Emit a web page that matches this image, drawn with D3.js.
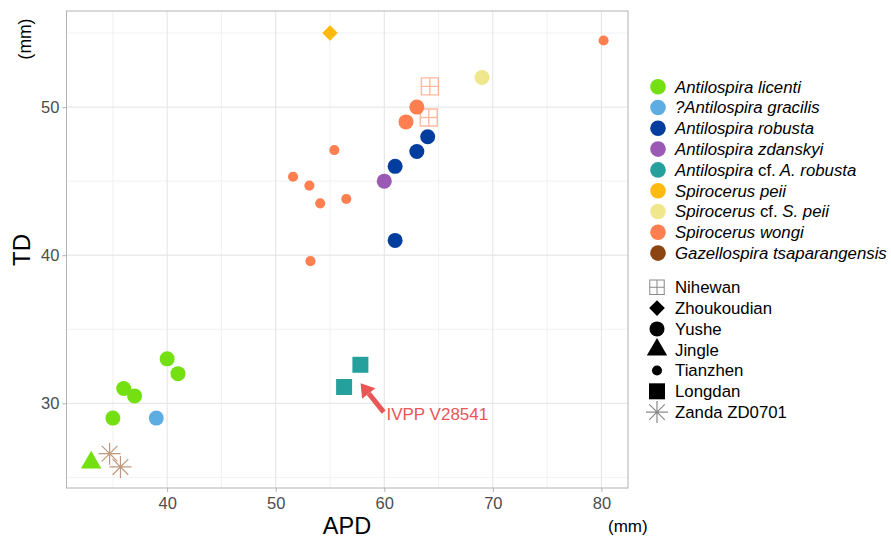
<!DOCTYPE html>
<html>
<head>
<meta charset="utf-8">
<script src="https://cdn.jsdelivr.net/npm/d3@7"></script>
<style>
    body { margin:0; background:#fff; }
    text { font-family: "Liberation Sans", Arial, sans-serif; }
</style>
</head>
<body>
<div class="canvas"></div>
<script>
// DATA
const speciesNames = [
    "Antilospira licenti",
    "?Antilospira gracilis",
    "Antilospira robusta",
    "Antilospira zdanskyi",
    "Antilospira cf. A. robusta",
    "Spirocerus peii",
    "Spirocerus cf. S. peii",
    "Spirocerus wongi",
    "Gazellospira tsaparangensis"
];
const speciesColors = ["#74E011","#5DADE2","#033E9E","#9B59B6","#26A09C","#FFB90F","#F0E68C","#FF7F50","#8B4513"];

const localities = ["Nihewan","Zhoukoudian","Yushe","Jingle","Tianzhen","Longdan","Zanda ZD0701"];

// one entry per specimen
const apd = [35, 36, 37, 40, 41, 33,
             39,
             61, 63, 64, 61,
             60,
             57.8, 56.3,
             55,
             69,
             62, 63, 51.6, 53.1, 54.1, 55.4, 56.5, 53.2, 80.2, 64.2, 64.1,
             34.7, 35.7];
const td  = [29, 31, 30.5, 33, 32, 26,
             29,
             46, 47, 48, 41,
             45,
             32.6, 31.1,
             55,
             52,
             49, 50, 45.3, 44.7, 43.5, 47.1, 43.8, 39.6, 54.5, 51.4, 49.3,
             26.6, 25.7];
const species = [0,0,0,0,0,0, 1, 2,2,2,2, 3, 4,4, 5, 6, 7,7,7,7,7,7,7,7,7,7,7, 8,8];
const locality = ["Yushe","Yushe","Yushe","Yushe","Yushe","Jingle",
                  "Yushe",
                  "Yushe","Yushe","Yushe","Yushe",
                  "Yushe",
                  "Longdan","Longdan",
                  "Zhoukoudian",
                  "Yushe",
                  "Yushe","Yushe","Tianzhen","Tianzhen","Tianzhen","Tianzhen","Tianzhen","Tianzhen","Tianzhen","Nihewan","Nihewan",
                  "Zanda ZD0701","Zanda ZD0701"];

const xTicks = [40, 50, 60, 70, 80];
const yTicks = [30, 40, 50];
const xMinor = [35, 45, 55, 65, 75];
const yMinor = [25, 35, 45, 55];

// annotation
const note = {label:"IVPP V28541", fromX:59.95, fromY:29.4, toX:57.82, toY:31.35, textX:60.2, textY:29.28};

// Dimensions
const W = 891, H = 538;
const panel = {left:66.5, right:628, top:11, bottom:488};

const svg = d3.select(".canvas")
.append("svg")
.attr("width", W)
.attr("height", H);

// SCALES
const xScale = d3.scaleLinear()
.domain([30.73, 82.45])
.range([panel.left, panel.right]);

const yScale = d3.scaleLinear()
.domain([24.28, 56.49])
.range([panel.bottom, panel.top]);

// GRID
const grid = svg.append("g");
grid.selectAll(".vmin").data(xMinor).enter().append("line")
    .attr("x1", d=>xScale(d)).attr("x2", d=>xScale(d))
    .attr("y1", panel.top).attr("y2", panel.bottom)
    .attr("stroke", "#EDEDED").attr("stroke-width", 0.8);
grid.selectAll(".hmin").data(yMinor).enter().append("line")
    .attr("y1", d=>yScale(d)).attr("y2", d=>yScale(d))
    .attr("x1", panel.left).attr("x2", panel.right)
    .attr("stroke", "#EDEDED").attr("stroke-width", 0.8);
grid.selectAll(".vmaj").data(xTicks).enter().append("line")
    .attr("x1", d=>xScale(d)).attr("x2", d=>xScale(d))
    .attr("y1", panel.top).attr("y2", panel.bottom)
    .attr("stroke", "#E3E3E3").attr("stroke-width", 1);
grid.selectAll(".hmaj").data(yTicks).enter().append("line")
    .attr("y1", d=>yScale(d)).attr("y2", d=>yScale(d))
    .attr("x1", panel.left).attr("x2", panel.right)
    .attr("stroke", "#E3E3E3").attr("stroke-width", 1);

// AXES
const xAxis = svg.append("g")
.attr("transform", `translate(0,${panel.bottom})`)
.call(d3.axisBottom(xScale).tickValues(xTicks).tickSize(4).tickPadding(5.7).tickFormat(d3.format("d")));

const yAxis = svg.append("g")
.attr("transform", `translate(${panel.left},0)`)
.call(d3.axisLeft(yScale).tickValues(yTicks).tickSize(4).tickPadding(3.2).tickFormat(d3.format("d")));

[xAxis, yAxis].forEach(a=>{
    a.select(".domain").remove();
    a.selectAll(".tick line").attr("stroke", "#B3B3B3");
    a.selectAll(".tick text")
        .attr("fill", "#4D4D4D")
        .style("font-size", "16.5px")
        .style("font-family", "'Liberation Sans', Arial, sans-serif");
});

svg.append("rect")
.attr("x", panel.left).attr("y", panel.top)
.attr("width", panel.right - panel.left).attr("height", panel.bottom - panel.top)
.attr("fill", "none").attr("stroke", "#B3B3B3").attr("stroke-width", 1);

// SHAPES
const shapePath = (loc) => {
    if (loc === "Yushe") return d3.symbol(d3.symbolCircle, 177)();
    if (loc === "Tianzhen") return d3.symbol(d3.symbolCircle, 80)();
    if (loc === "Longdan") return "M-8,-8H8V8H-8Z";
    if (loc === "Zhoukoudian") return "M0,-7.8L7.8,0L0,7.8L-7.8,0Z";
    if (loc === "Jingle") return "M0,-11.8L10.2,5.9L-10.2,5.9Z";
    if (loc === "Nihewan") return "M-8.5,-8.5H8.5V8.5H-8.5ZM0,-8.5V8.5M-8.5,0H8.5";
    if (loc === "Zanda ZD0701") return "M-11,0H11M0,-11V11M-7.8,-7.8L7.8,7.8M-7.8,7.8L7.8,-7.8";
};
const isOutline = (loc) => loc === "Nihewan" || loc === "Zanda ZD0701";

const points = apd.map((d,i)=>({apd:d, td:td[i], sp:species[i], loc:locality[i]}));

svg.append("g").selectAll("path")
.data(points)
.enter()
.append("path")
    .attr("transform", d=>`translate(${xScale(d.apd)},${yScale(d.td)})`)
    .attr("d", d=>shapePath(d.loc))
    .attr("fill", d=>isOutline(d.loc) ? "none" : speciesColors[d.sp])
    .attr("stroke", d=>isOutline(d.loc) ? speciesColors[d.sp] : "none")
    .attr("stroke-width", d=>d.loc === "Nihewan" ? 1.4 : 1.2)
    .attr("stroke-opacity", d=>isOutline(d.loc) ? 0.55 : 1);

// ANNOTATION
const x0 = xScale(note.fromX), y0 = yScale(note.fromY);
const x1 = xScale(note.toX), y1 = yScale(note.toY);
const ang = Math.atan2(y1 - y0, x1 - x0);
const headLen = 13, headW = 8.5;
const bx = x1 - headLen * Math.cos(ang), by = y1 - headLen * Math.sin(ang);
svg.append("line")
.attr("x1", x0).attr("y1", y0).attr("x2", bx).attr("y2", by)
.attr("stroke", "#E85656").attr("stroke-width", 5);
svg.append("path")
.attr("d", `M${x1},${y1}L${bx + headW*Math.sin(ang)},${by - headW*Math.cos(ang)}L${bx - headW*Math.sin(ang)},${by + headW*Math.cos(ang)}Z`)
.attr("fill", "#E85656");
svg.append("text")
.attr("x", xScale(note.textX)).attr("y", yScale(note.textY))
.attr("dy", "0.35em")
.attr("fill", "#E85656")
.style("font-size", "17px")
.text(note.label);

// AXIS TITLES
svg.append("text")
.attr("transform", "translate(22,250) rotate(-90)")
.attr("text-anchor", "middle").attr("dy", "0.35em")
.style("font-size", "24px")
.text("TD");
svg.append("text")
.attr("transform", "translate(25,39) rotate(-90)")
.attr("text-anchor", "middle").attr("dy", "0.35em")
.style("font-size", "17.5px")
.text("(mm)");
svg.append("text")
.attr("x", 347).attr("y", 534)
.attr("text-anchor", "middle")
.style("font-size", "23.5px")
.text("APD");
svg.append("text")
.attr("x", 608).attr("y", 532)
.style("font-size", "17px")
.text("(mm)");

// LEGEND - species colours
const legend = svg.append("g");
const colItems = legend.selectAll(".col")
.data(speciesNames)
.enter()
.append("g")
.attr("transform", (d,i)=>`translate(658,${86.7 + i*20.8})`);

colItems.append("circle")
.attr("r", 7.8)
.attr("fill", (d,i)=>speciesColors[i]);

colItems.append("text")
.attr("x", 17).attr("dy", "0.35em")
.style("font-size", "16.8px")
.each(function(d){
    const t = d3.select(this);
    d.split(" ").forEach((w,j)=>{
        t.append("tspan")
            .style("font-style", w === "cf." ? "normal" : "italic")
            .text((j > 0 ? " " : "") + w);
    });
});

// LEGEND - localities
const shpItems = legend.selectAll(".shp")
.data(localities)
.enter()
.append("g")
.attr("transform", (d,i)=>`translate(657,${287.3 + i*20.8})`);

shpItems.append("path")
.attr("d", d=>shapePath(d))
.attr("transform", d=>d === "Nihewan" ? "scale(0.85)" : null)
.attr("fill", d=>isOutline(d) ? "none" : "#000")
.attr("stroke", d=>isOutline(d) ? "#8A8A8A" : "none")
.attr("stroke-width", 1.2);

shpItems.append("text")
.attr("x", 18).attr("dy", "0.35em")
.style("font-size", "16.8px")
.text(d=>d);
</script>
</body>
</html>
